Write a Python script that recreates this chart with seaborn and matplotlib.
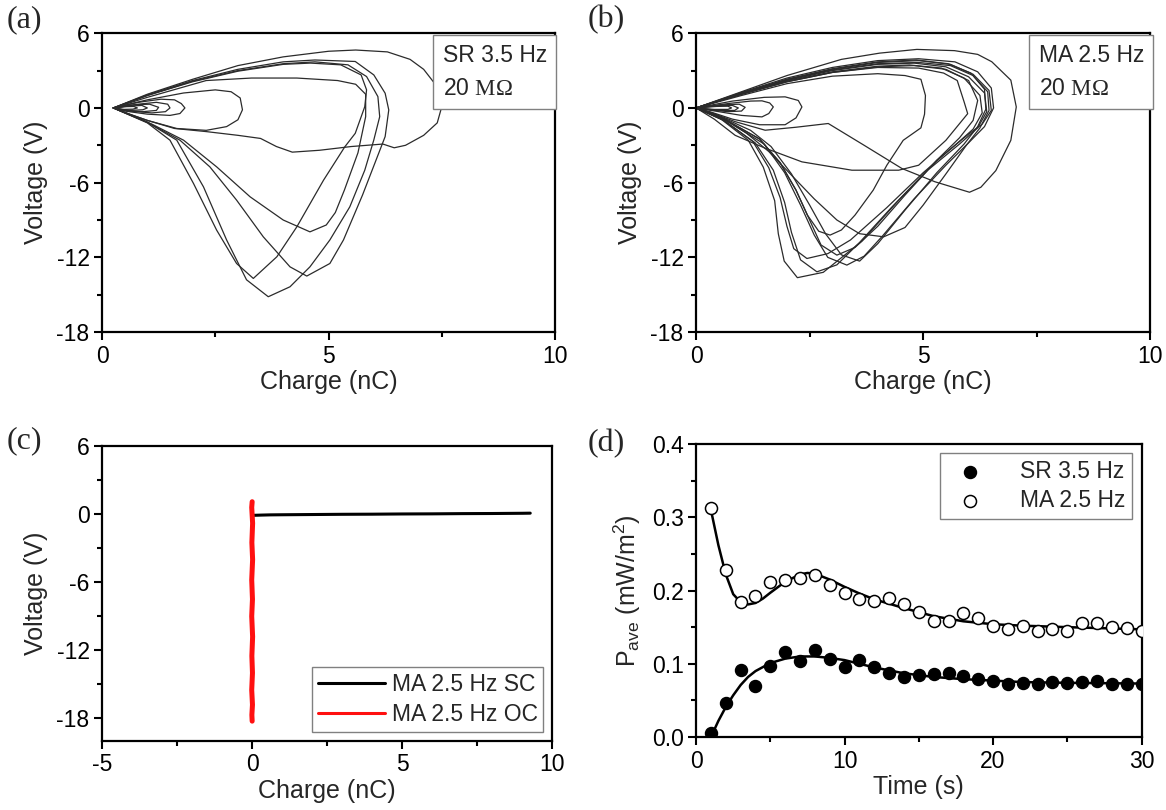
import matplotlib
matplotlib.use("Agg")
import matplotlib.pyplot as plt
import seaborn as sns
from matplotlib.ticker import MultipleLocator, FormatStrFormatter

sns.set_theme(context="notebook", style="ticks")
plt.rcParams["font.family"] = ["Liberation Sans", "DejaVu Sans"]
plt.rcParams["mathtext.fontset"] = "custom"
plt.rcParams["mathtext.rm"] = "Liberation Serif"
plt.rcParams["mathtext.sf"] = "Liberation Sans"
plt.rcParams["axes.unicode_minus"] = False

# ---------------- panel (a): SR 3.5 Hz loops (charge nC, voltage V) ----------------
a_big_q = [0.25, 1.0, 2.0, 3.0, 4.0, 5.0, 5.6, 6.3, 6.8, 7.1, 7.4, 7.5, 7.4, 7.1, 6.7, 6.45, 6.2, 5.5, 4.8, 4.2, 3.85, 3.5, 3.0, 2.3, 1.6, 1.0, 0.45, 0.25]
a_big_v = [0, 1.1, 2.3, 3.4, 4.1, 4.55, 4.65, 4.5, 3.9, 3.1, 1.7, 0.1, -1.2, -2.2, -3.0, -3.2, -2.9, -3.1, -3.4, -3.55, -3.1, -2.45, -2.2, -1.9, -1.65, -1.0, -0.3, 0]
a_mid_q = [0.25, 1.0, 1.8, 2.5, 2.85, 3.05, 3.1, 3.0, 2.75, 2.3, 1.65, 1.0, 0.45, 0.25]
a_mid_v = [0, 0.65, 1.2, 1.45, 1.3, 0.8, -0.15, -0.95, -1.5, -1.8, -1.65, -1.0, -0.3, 0]
a_s1_q = [0.25, 0.8, 1.3, 1.6, 1.75, 1.83, 1.72, 1.5, 1.0, 0.5, 0.25]
a_s1_v = [0, 0.45, 0.7, 0.65, 0.35, 0.0, -0.45, -0.6, -0.5, -0.25, 0]
a_s2_q = [0.25, 0.8, 1.2, 1.45, 1.5, 1.4, 1.1, 0.6, 0.25]
a_s2_v = [0, 0.3, 0.45, 0.3, 0.0, -0.3, -0.4, -0.25, 0]
a_s3_q = [0.25, 0.7, 1.05, 1.25, 1.2, 0.9, 0.5, 0.25]
a_s3_v = [0, 0.25, 0.3, 0.05, -0.2, -0.3, -0.2, 0]
a_s4_q = [0.25, 0.6, 0.88, 1.0, 0.9, 0.6, 0.25]
a_s4_v = [0, 0.15, 0.2, 0.0, -0.15, -0.2, 0]
a_s5_q = [0.25, 0.5, 0.7, 0.78, 0.68, 0.45, 0.25]
a_s5_v = [0, 0.1, 0.12, 0, -0.1, -0.12, 0]
a_t1_q = [0.25, 1.0, 2.3, 3.3, 4.3, 5.2, 5.6, 5.82, 5.82, 5.65, 5.35, 5.15, 4.95, 4.59, 4.0, 3.27, 2.53, 1.80, 1.1, 0.5, 0.25]
a_t1_v = [0, 0.85, 2.2, 2.4, 2.4, 2.2, 1.9, 1.1, -0.7, -3.6, -6.6, -8.4, -9.4, -9.95, -9.0, -7.14, -4.73, -2.59, -1.3, -0.35, 0]
a_t2_q = [0.25, 1.0, 2.0, 3.0, 4.0, 4.6, 5.27, 5.72, 5.84, 5.80, 5.59, 5.36, 4.89, 4.30, 3.86, 3.34, 2.97, 2.53, 2.02, 1.50, 1.0, 0.5, 0.25]
a_t2_v = [0, 1.0, 2.1, 2.95, 3.5, 3.6, 3.46, 2.65, 1.45, 0.1, -2.04, -3.12, -5.8, -9.55, -11.95, -13.69, -12.49, -9.81, -6.07, -2.59, -1.2, -0.4, 0]
a_t3_q = [0.25, 1.0, 2.0, 3.0, 4.0, 4.7, 5.59, 6.0, 6.25, 6.33, 6.25, 6.05, 5.75, 5.33, 5.03, 4.52, 4.15, 3.56, 2.97, 2.38, 1.72, 1.0, 0.5, 0.25]
a_t3_v = [0, 1.05, 2.2, 3.1, 3.7, 3.85, 3.73, 2.65, 1.18, -0.16, -2.3, -4.18, -7.0, -10.6, -12.49, -13.5, -12.76, -10.35, -7.4, -4.73, -2.59, -1.15, -0.38, 0]
a_t4_q = [0.25, 1.0, 2.0, 3.0, 4.0, 4.7, 5.43, 5.84, 6.09, 6.13, 6.0, 5.8, 5.47, 5.03, 4.59, 4.15, 3.67, 3.19, 2.75, 2.24, 1.65, 1.0, 0.5, 0.25]
a_t4_v = [0, 1.0, 2.15, 3.0, 3.55, 3.7, 3.46, 2.52, 0.91, -0.7, -2.57, -5.0, -7.94, -10.6, -12.76, -14.36, -15.16, -13.8, -10.6, -6.34, -2.59, -1.15, -0.4, 0]

# ---------------- panel (b): MA 2.5 Hz loops ----------------
b_big_q = [0, 1.0, 2.0, 3.2, 4.04, 4.86, 5.69, 6.2, 6.51, 6.93, 7.05, 6.93, 6.6, 6.27, 6.02, 5.26, 4.53, 3.7, 2.91, 2.2, 1.52, 0.86, 0.35, 0]
b_big_v = [0, 1.3, 2.6, 3.9, 4.4, 4.7, 4.6, 4.3, 3.71, 2.23, 0.08, -2.6, -5.03, -6.37, -6.77, -5.93, -4.86, -3.0, -1.25, -1.55, -1.79, -1.1, -0.4, 0]
b_mid_q = [0, 1.0, 2.0, 3.0, 4.0, 4.9, 5.45, 5.75, 5.9, 5.98, 5.5, 4.9, 4.46, 3.43, 2.33, 1.5, 0.86, 0.4, 0]
b_mid_v = [0, 1.1, 2.1, 2.85, 3.25, 3.2, 2.8, 2.2, 0.5, -0.46, -2.6, -4.6, -5.0, -5.0, -4.33, -3.2, -2.2, -0.9, 0]
b_s1_q = [0, 0.8, 1.5, 1.96, 2.25, 2.33, 2.2, 1.96, 1.4, 0.8, 0.3, 0]
b_s1_v = [0, 0.55, 0.85, 0.89, 0.6, 0.08, -0.8, -1.35, -1.35, -0.9, -0.3, 0]
b_s2_q = [0, 0.7, 1.2, 1.45, 1.62, 1.7, 1.6, 1.45, 1.0, 0.5, 0]
b_s2_v = [0, 0.35, 0.55, 0.57, 0.4, 0.08, -0.45, -0.72, -0.6, -0.3, 0]
b_s3_q = [0, 0.6, 0.95, 1.08, 1.0, 0.7, 0.3, 0]
b_s3_v = [0, 0.25, 0.3, 0.05, -0.25, -0.3, -0.15, 0]
b_s4_q = [0, 0.5, 0.8, 0.93, 0.85, 0.5, 0]
b_s4_v = [0, 0.18, 0.2, 0.0, -0.2, -0.2, 0]
b_s5_q = [0, 0.45, 0.7, 0.78, 0.7, 0.4, 0]
b_s5_v = [0, 0.12, 0.14, 0, -0.12, -0.12, 0]
b_t1_q = [0, 1.0, 2.0, 3.0, 4.0, 4.9, 5.6, 6.1, 6.45, 6.5, 6.3, 6.0, 5.3, 4.45, 3.65, 2.8, 2.23, 1.94, 1.81, 1.73, 1.48, 1.15, 0.55, 0]
b_t1_v = [0, 1.2, 2.3, 3.1, 3.65, 3.8, 3.5, 2.7, 1.4, -0.2, -1.3, -2.1, -4.2, -7.45, -10.7, -13.2, -13.63, -12.3, -10.1, -7.45, -4.76, -2.6, -0.9, 0]
b_t2_q = [0, 1.0, 2.0, 3.0, 4.0, 4.8, 5.5, 6.0, 6.35, 6.4, 6.2, 5.8, 5.1, 4.3, 3.6, 3.1, 2.66, 2.3, 2.1, 1.95, 1.7, 1.3, 0.6, 0]
b_t2_v = [0, 1.15, 2.2, 3.0, 3.5, 3.6, 3.3, 2.5, 1.2, -0.3, -1.6, -2.9, -5.0, -8.0, -10.8, -12.6, -13.16, -12.2, -10.0, -7.6, -5.0, -2.8, -1.0, 0]
b_t3_q = [0, 1.0, 2.0, 3.0, 4.0, 4.7, 5.4, 5.9, 6.25, 6.3, 6.1, 5.7, 5.0, 4.2, 3.4, 2.9, 2.44, 2.15, 2.0, 1.85, 1.6, 1.25, 0.6, 0]
b_t3_v = [0, 1.1, 2.15, 2.9, 3.35, 3.45, 3.2, 2.4, 1.0, -0.4, -1.7, -3.0, -5.2, -8.0, -10.6, -11.7, -12.09, -11.3, -9.5, -7.2, -4.8, -2.7, -0.95, 0]
b_t4_q = [0, 1.0, 2.0, 3.0, 4.0, 4.9, 5.7, 6.2, 6.5, 6.55, 6.35, 6.0, 5.5, 4.8, 4.1, 3.7, 3.32, 2.9, 2.6, 2.3, 1.95, 1.5, 0.7, 0]
b_t4_v = [0, 1.25, 2.4, 3.25, 3.8, 3.95, 3.7, 2.9, 1.6, 0.0, -1.5, -2.8, -4.6, -7.3, -10.3, -11.9, -12.62, -12.0, -10.2, -7.8, -5.2, -2.9, -1.1, 0]
b_t5_q = [0, 1.0, 2.0, 3.0, 4.0, 4.8, 5.5, 6.0, 6.2, 6.1, 5.8, 5.3, 4.6, 4.0, 3.5, 3.1, 2.75, 2.5, 2.2, 1.85, 1.4, 0.65, 0]
b_t5_v = [0, 1.1, 2.1, 2.85, 3.3, 3.4, 3.1, 2.2, 0.6, -1.0, -2.4, -4.2, -7.0, -9.5, -11.2, -11.82, -11.0, -9.0, -6.6, -4.4, -2.5, -0.95, 0]
b_t6_q = [0, 1.0, 2.0, 3.0, 4.0, 4.6, 4.95, 5.05, 5.03, 4.95, 4.56, 4.2, 3.9, 3.5, 3.2, 2.95, 2.7, 2.45, 2.2, 1.85, 1.4, 0.65, 0]
b_t6_v = [0, 1.0, 1.95, 2.55, 2.75, 2.6, 2.3, 1.0, -0.5, -1.6, -2.6, -4.6, -6.6, -8.6, -9.8, -10.21, -9.9, -8.6, -6.6, -4.4, -2.5, -0.95, 0]
b_t7_q = [0, 1.0, 2.0, 3.0, 4.0, 4.9, 5.6, 6.1, 6.42, 6.45, 6.25, 5.95, 5.5, 5.0, 4.6, 4.13, 3.6, 3.1, 2.6, 2.1, 1.6, 1.1, 0.55, 0]
b_t7_v = [0, 1.15, 2.25, 3.05, 3.55, 3.65, 3.4, 2.6, 1.3, -0.2, -1.6, -3.0, -5.3, -7.8, -9.6, -10.35, -10.1, -9.0, -7.3, -5.4, -3.5, -2.0, -0.75, 0]
b_t8_q = [0, 1.0, 2.0, 3.0, 4.0, 4.85, 5.55, 6.05, 6.35, 6.38, 6.2, 5.9, 5.3, 4.6, 4.0, 3.6, 3.2, 2.85, 2.5, 2.1, 1.65, 1.2, 0.6, 0]
b_t8_v = [0, 1.2, 2.3, 3.15, 3.7, 3.85, 3.55, 2.8, 1.5, -0.1, -1.5, -2.9, -5.2, -8.2, -10.9, -12.3, -11.8, -10.1, -7.8, -5.3, -3.1, -1.8, -0.8, 0]

# ---------------- panel (c): SC vs OC ----------------
sc_q = [0.05, 0.3, 0.6, 1.0, 2.0, 3.0, 4.0, 5.0, 6.0, 7.0, 8.0, 9.0, 9.26]
sc_v = [-0.1, -0.08, -0.06, -0.05, -0.03, -0.01, 0.0, 0.02, 0.03, 0.05, 0.06, 0.08, 0.09]
oc_q = [0.0, -0.015, 0.015, -0.01, 0.015, -0.015, 0.01, -0.015, 0.015, -0.01, 0.01, -0.015, 0.01, -0.01, 0.0]
oc_v = [1.1, 0.6, -0.8, -2.5, -4.0, -5.8, -7.5, -9.0, -10.8, -12.5, -14.0, -15.5, -16.8, -17.7, -18.25]

# ---------------- panel (d): average power ----------------
t_pts = list(range(1, 31))
sr_p = [0.005, 0.047, 0.092, 0.069, 0.097, 0.116, 0.104, 0.119, 0.107, 0.096,
        0.105, 0.095, 0.088, 0.082, 0.085, 0.086, 0.087, 0.083, 0.079, 0.077,
        0.073, 0.074, 0.072, 0.075, 0.074, 0.075, 0.076, 0.073, 0.072, 0.072]
ma_p = [0.313, 0.228, 0.185, 0.192, 0.211, 0.214, 0.217, 0.221, 0.208, 0.196,
        0.188, 0.186, 0.190, 0.182, 0.171, 0.158, 0.158, 0.170, 0.162, 0.152,
        0.148, 0.151, 0.145, 0.147, 0.145, 0.156, 0.155, 0.150, 0.149, 0.145]
sr_fit_t = [1.0, 1.5, 2.0, 2.5, 3.0, 3.5, 4.0, 5.0, 6.0, 7.0, 8.0, 9.0, 10.0, 11.0, 12.0, 14.0, 16.0, 18.0, 20.0, 22.0, 25.0, 30.0]
sr_fit_p = [0.0, 0.022, 0.041, 0.057, 0.071, 0.082, 0.090, 0.101, 0.107, 0.110, 0.110, 0.108, 0.105, 0.100, 0.095, 0.087, 0.082, 0.079, 0.077, 0.075, 0.074, 0.073]
ma_fit_t = [1.0, 1.5, 2.0, 2.5, 3.0, 3.5, 4.0, 4.5, 5.0, 6.0, 7.0, 7.5, 8.0, 9.0, 10.0, 11.0, 12.0, 14.0, 16.0, 18.0, 20.0, 22.0, 25.0, 30.0]
ma_fit_p = [0.31, 0.262, 0.222, 0.195, 0.184, 0.181, 0.183, 0.189, 0.197, 0.212, 0.222, 0.224, 0.223, 0.215, 0.205, 0.196, 0.188, 0.176, 0.165, 0.158, 0.154, 0.152, 0.150, 0.147]

loop_color = "#2b2b2b"
fig = plt.figure(figsize=(11.66, 8.10), dpi=100)
ax_a = fig.add_axes([0.0875, 0.590, 0.3885, 0.369])
ax_b = fig.add_axes([0.597, 0.590, 0.3895, 0.369])
ax_c = fig.add_axes([0.0875, 0.0852, 0.3863, 0.364])
ax_d = fig.add_axes([0.597, 0.0901, 0.382, 0.3617])


def draw_loops(ax, loops):
    for q, v in loops:
        sns.lineplot(x=q, y=v, ax=ax, sort=False, estimator=None,
                     color=loop_color, lw=0.9, legend=False)


def style(ax, xlim, ylim, xmaj, xmin, ymaj, ymin):
    ax.set_xlim(*xlim)
    ax.set_ylim(*ylim)
    ax.xaxis.set_major_locator(MultipleLocator(xmaj))
    ax.xaxis.set_minor_locator(MultipleLocator(xmin))
    ax.yaxis.set_major_locator(MultipleLocator(ymaj))
    ax.yaxis.set_minor_locator(MultipleLocator(ymin))
    for s in ax.spines.values():
        s.set_visible(True)
        s.set_linewidth(1.6)
        s.set_color("black")
    ax.tick_params(which="major", direction="out", length=6, width=1.5,
                   labelsize=16.5, color="black", labelcolor="black", pad=3)
    ax.tick_params(which="minor", direction="out", length=3.5, width=1.5, color="black")
    ax.set_facecolor("white")


def info_box(ax, x, text):
    ax.text(x, 0.965, text, transform=ax.transAxes, ha="right", va="top",
            multialignment="left", fontsize=16.5, linespacing=1.55,
            bbox=dict(boxstyle="square,pad=0.4", fc="white", ec="#808080", lw=1))


# (a)
draw_loops(ax_a, [(a_big_q, a_big_v), (a_mid_q, a_mid_v), (a_s1_q, a_s1_v), (a_s2_q, a_s2_v),
                  (a_s3_q, a_s3_v), (a_s4_q, a_s4_v), (a_s5_q, a_s5_v), (a_t1_q, a_t1_v),
                  (a_t2_q, a_t2_v), (a_t3_q, a_t3_v), (a_t4_q, a_t4_v)])
style(ax_a, (0, 10), (-18, 6), 5, 2.5, 6, 3)
ax_a.set_xlabel("Charge (nC)", fontsize=18, labelpad=2)
ax_a.set_ylabel("Voltage (V)", fontsize=18, labelpad=6)
info_box(ax_a, 0.982, "SR 3.5 Hz\n20 $\\mathrm{M\\Omega}$")

# (b)
draw_loops(ax_b, [(b_big_q, b_big_v), (b_mid_q, b_mid_v), (b_s1_q, b_s1_v), (b_s2_q, b_s2_v),
                  (b_s3_q, b_s3_v), (b_s4_q, b_s4_v), (b_s5_q, b_s5_v), (b_t1_q, b_t1_v),
                  (b_t2_q, b_t2_v), (b_t3_q, b_t3_v), (b_t4_q, b_t4_v), (b_t5_q, b_t5_v),
                  (b_t6_q, b_t6_v), (b_t7_q, b_t7_v), (b_t8_q, b_t8_v)])
style(ax_b, (0, 10), (-18, 6), 5, 2.5, 6, 3)
ax_b.set_xlabel("Charge (nC)", fontsize=18, labelpad=2)
ax_b.set_ylabel("Voltage (V)", fontsize=18, labelpad=6)
info_box(ax_b, 0.986, "MA 2.5 Hz\n20 $\\mathrm{M\\Omega}$")

# (c)
sns.lineplot(x=sc_q, y=sc_v, ax=ax_c, sort=False, estimator=None, color="black",
             lw=2.2, label="MA 2.5 Hz SC")
sns.lineplot(x=oc_q, y=oc_v, ax=ax_c, sort=False, estimator=None, color="#ff1010",
             lw=3.6, label="MA 2.5 Hz OC")
style(ax_c, (-5, 10), (-20, 6), 5, 2.5, 6, 3)
ax_c.set_xlabel("Charge (nC)", fontsize=18, labelpad=2)
ax_c.set_ylabel("Voltage (V)", fontsize=18, labelpad=6)
leg_c = ax_c.legend(loc="lower right", fontsize=16.5, frameon=True, fancybox=False,
                    edgecolor="#808080", framealpha=1, handlelength=2.9, handletextpad=0.3,
                    borderpad=0.25, labelspacing=0.3, borderaxespad=0.4)
for h in leg_c.get_lines():
    h.set_linewidth(2.2)

# (d)
sns.lineplot(x=sr_fit_t, y=sr_fit_p, ax=ax_d, sort=False, estimator=None, color="black", lw=1.8)
sns.lineplot(x=ma_fit_t, y=ma_fit_p, ax=ax_d, sort=False, estimator=None, color="black", lw=1.8)
sns.scatterplot(x=t_pts, y=sr_p, ax=ax_d, s=75, color="black", edgecolor="black",
                linewidth=1, label="SR 3.5 Hz", zorder=3)
sns.scatterplot(x=t_pts, y=ma_p, ax=ax_d, s=75, facecolor="white", edgecolor="black",
                linewidth=1.1, label="MA 2.5 Hz", zorder=3)
style(ax_d, (0, 30), (0, 0.4), 10, 5, 0.1, 0.05)
ax_d.yaxis.set_major_formatter(FormatStrFormatter("%.1f"))
ax_d.set_xlabel("Time (s)", fontsize=18, labelpad=2)
ax_d.set_ylabel("P$_{\\mathsf{ave}}$ (mW/m$^{\\mathsf{2}}$)", fontsize=18, labelpad=6)
ax_d.legend(loc="upper right", fontsize=16.5, frameon=True, fancybox=False,
            edgecolor="#808080", framealpha=1, handletextpad=1.2, markerscale=1.0,
            borderpad=0.3, labelspacing=0.25, borderaxespad=0.4)

for lab, x, y in [("(a)", 0.006, 0.994), ("(b)", 0.504, 0.994), ("(c)", 0.006, 0.474), ("(d)", 0.504, 0.470)]:
    fig.text(x, y, lab, fontsize=23, family="Liberation Serif", ha="left", va="top")

fig.savefig("out.png", dpi=100, facecolor="white")
